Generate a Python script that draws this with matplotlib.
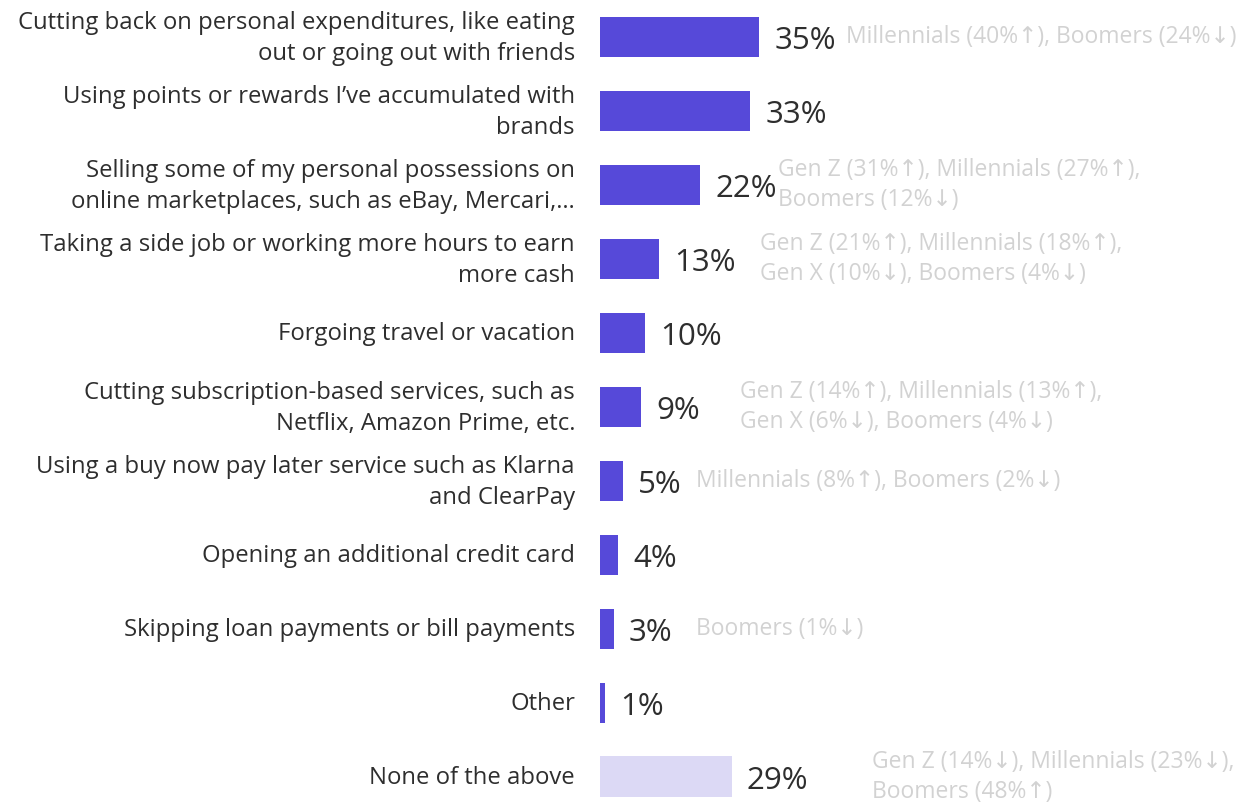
import matplotlib.pyplot as plt

plt.rcParams['font.family'] = ['Open Sans', 'DejaVu Sans']

categories = [
    "Cutting back on personal expenditures, like eating\nout or going out with friends",
    "Using points or rewards I\u2019ve accumulated with\nbrands",
    "Selling some of my personal possessions on\nonline marketplaces, such as eBay, Mercari,\u2026",
    "Taking a side job or working more hours to earn\nmore cash",
    "Forgoing travel or vacation",
    "Cutting subscription-based services, such as\nNetflix, Amazon Prime, etc.",
    "Using a buy now pay later service such as Klarna\nand ClearPay",
    "Opening an additional credit card",
    "Skipping loan payments or bill payments",
    "Other",
    "None of the above",
]
values = [35, 33, 22, 13, 10, 9, 5, 4, 3, 1, 29]
notes = [
    "Millennials (40%\u2191), Boomers (24%\u2193)",
    "",
    "Gen Z (31%\u2191), Millennials (27%\u2191),\nBoomers (12%\u2193)",
    "Gen Z (21%\u2191), Millennials (18%\u2191),\nGen X (10%\u2193), Boomers (4%\u2193)",
    "",
    "Gen Z (14%\u2191), Millennials (13%\u2191),\nGen X (6%\u2193), Boomers (4%\u2193)",
    "Millennials (8%\u2191), Boomers (2%\u2193)",
    "",
    "Boomers (1%\u2193)",
    "",
    "Gen Z (14%\u2193), Millennials (23%\u2193),\nBoomers (48%\u2191)",
]
# where each note starts, in axis units
note_x = [54.2, 39.2, 39.2, 35.2, 0, 30.8, 21.1, 0, 21.1, 0, 59.9]

BAR = '#5649D9'
BAR_LIGHT = '#DCD9F5'
TXT = '#2E2E2E'
NOTE = '#D2D2D2'

fig = plt.figure(figsize=(12.4, 8.02), dpi=100)
ax = fig.add_axes([600 / 1240, 0, 640 / 1240, 1])

ys = list(range(len(values)))
colors = [BAR] * (len(values) - 1) + [BAR_LIGHT]
ax.barh(ys, values, height=0.55, color=colors, left=0)

ax.set_xlim(0, 640 / 4.54)
ax.set_ylim(10.34, -0.5)
ax.axis('off')

for y, v, cat, note, nx in zip(ys, values, categories, notes, note_x):
    ax.annotate(f"{v}%", (v, y), xytext=(11, -3), textcoords='offset points',
                va='center', ha='left', fontsize=22.5, color=TXT)
    ax.annotate(cat, (0, y), xytext=(-18, -1), textcoords='offset points',
                va='center', ha='right', fontsize=17.2, color=TXT,
                linespacing=1.42, annotation_clip=False)
    if note:
        ax.text(nx, y, note, va='center', ha='left', fontsize=16.5,
                color=NOTE, linespacing=1.3)

fig.savefig('out.png', dpi=100)
